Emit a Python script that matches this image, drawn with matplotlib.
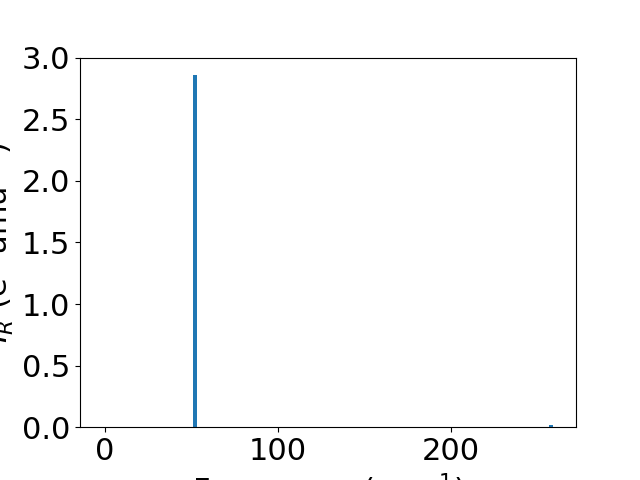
import matplotlib
matplotlib.use('Agg')
import matplotlib.pyplot as plt

# IR-active modes: frequency (cm^-1) and intensity
freqs = [0.0, 52.0, 258.0]
intensities = [0.0, 2.86, 0.018]

plt.rcParams['font.size'] = 22

fig, ax = plt.subplots(figsize=(6.4, 4.8), dpi=100)
ax.bar(freqs, intensities, width=2.5)
ax.set_xlabel('Frequency (cm$^{-1}$)')
ax.set_ylabel('$I_R$ (e$^2$ amu$^{-1}$)')
ax.set_ylim(0, 3.0)

plt.savefig('out.png', dpi=100)
